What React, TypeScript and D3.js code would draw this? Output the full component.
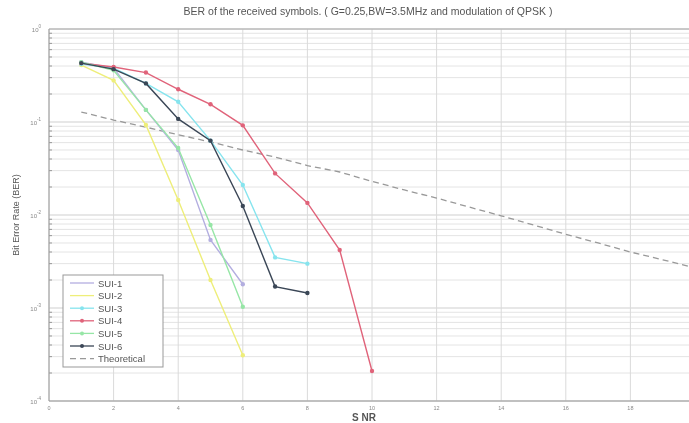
import React from "react";
import * as d3 from "d3";

// SNR points (dB) for each SUI channel model
const snrShort = [1, 2, 3, 4, 5, 6];
const snrMid = [1, 2, 3, 4, 5, 6, 7, 8];
const snrLong = [1, 2, 3, 4, 5, 6, 7, 8, 9, 10];
const snrTheory = [1, 2, 3, 4, 5, 6, 7, 8, 9, 10, 11, 12, 13, 14, 15, 16, 17, 18, 19, 20];

const sui1 = [0.44, 0.38, 0.135, 0.05, 0.0054, 0.0018];
const sui2 = [0.41, 0.28, 0.093, 0.0145, 0.002, 0.00031];
const sui3 = [0.42, 0.38, 0.26, 0.165, 0.063, 0.021, 0.0035, 0.003];
const sui4 = [0.43, 0.39, 0.34, 0.225, 0.155, 0.092, 0.028, 0.0135, 0.0042, 0.00021];
const sui5 = [0.44, 0.36, 0.135, 0.0525, 0.0078, 0.00103];
const sui6 = [0.43, 0.37, 0.26, 0.108, 0.063, 0.0125, 0.0017, 0.00145];
const theory = [0.128, 0.105, 0.088, 0.073, 0.061, 0.05, 0.042, 0.034, 0.029, 0.023,
  0.0186, 0.0152, 0.0122, 0.0098, 0.0078, 0.0062, 0.005, 0.004, 0.0033, 0.0027];

const xTicks = [0, 2, 4, 6, 8, 10, 12, 14, 16, 18];
const yTicks = [1, 0.1, 0.01, 0.001, 0.0001];
const yTickExp = ["0", "-1", "-2", "-3", "-4"];

const series = [
  { name: "SUI-1", x: snrShort, y: sui1, color: "#b3aee0", dash: "" },
  { name: "SUI-2", x: snrShort, y: sui2, color: "#eeee7a", dash: "" },
  { name: "SUI-3", x: snrMid, y: sui3, color: "#86e4ee", dash: "" },
  { name: "SUI-4", x: snrLong, y: sui4, color: "#e0637a", dash: "" },
  { name: "SUI-5", x: snrShort, y: sui5, color: "#96e6a6", dash: "" },
  { name: "SUI-6", x: snrMid, y: sui6, color: "#3a4656", dash: "" },
];

const W = 689;
const H = 423;
const left = 49;
const top = 29;
const bottom = 401;

export default function App() {
  const x = d3.scaleLinear().domain([0, 20]).range([left, left + 20 * 32.3]);
  const y = d3.scaleLog().domain([1e-4, 1]).range([bottom, top]);
  const line = d3
    .line<[number, number]>()
    .x((d) => x(d[0]))
    .y((d) => y(d[1]));

  // minor log grid values
  const minor: number[] = [];
  for (let e = -4; e < 0; e++) {
    for (let m = 2; m <= 9; m++) minor.push(m * Math.pow(10, e));
  }

  const font = "Liberation Sans, Arial, sans-serif";

  return (
    <svg width={W} height={H} style={{ position: "absolute", left: 0, top: 0, background: "#fff" }}>
      <defs>
        <filter id="soft">
          <feGaussianBlur stdDeviation="0.45" />
        </filter>
      </defs>
      <rect width={W} height={H} fill="#fff" />
      <g filter="url(#soft)">
        {/* grid */}
        {minor.map((v, i) => (
          <line key={"m" + i} x1={left} x2={W} y1={y(v)} y2={y(v)} stroke="#e4e4e4" strokeWidth={1} />
        ))}
        {yTicks.map((v, i) => (
          <line key={"M" + i} x1={left} x2={W} y1={y(v)} y2={y(v)} stroke="#cfcfcf" strokeWidth={1} />
        ))}
        {xTicks.map((v) => (
          <line key={"x" + v} x1={x(v)} x2={x(v)} y1={top} y2={bottom} stroke="#dadada" strokeWidth={1} />
        ))}

        {/* axes */}
        <line x1={left} x2={left} y1={top} y2={bottom} stroke="#999" />
        <line x1={left} x2={W} y1={bottom} y2={bottom} stroke="#999" />
        <line x1={left} x2={W} y1={top} y2={top} stroke="#aaa" />
        {minor.map((v, i) => (
          <line key={"t" + i} x1={left} x2={left + 3} y1={y(v)} y2={y(v)} stroke="#999" />
        ))}
        {xTicks.map((v) => (
          <text key={"xl" + v} x={x(v)} y={bottom + 9} fontSize={5.5} fill="#888" textAnchor="middle" fontFamily={font}>
            {v}
          </text>
        ))}
        {yTicks.map((v, i) => (
          <text key={"yl" + i} x={left - 8} y={y(v) + 3} fontSize={6} fill="#888" textAnchor="end" fontFamily={font}>
            10
            <tspan dy={-4} fontSize={4.5}>
              {yTickExp[i]}
            </tspan>
          </text>
        ))}

        {/* theoretical curve */}
        <path
          d={line(snrTheory.map((s, i) => [s, theory[i]]) as [number, number][]) || ""}
          fill="none"
          stroke="#999"
          strokeWidth={1.3}
          strokeDasharray="6,4"
        />

        {/* simulated curves */}
        {series.map((s) => {
          const pts = s.x.map((v, i) => [v, s.y[i]] as [number, number]);
          return (
            <g key={s.name}>
              <path d={line(pts) || ""} fill="none" stroke={s.color} strokeWidth={1.4} />
              {pts.map((p, i) => (
                <circle key={i} cx={x(p[0])} cy={y(p[1])} r={2.2} fill={s.color} />
              ))}
            </g>
          );
        })}

        {/* legend */}
        <rect x={63} y={275} width={100} height={92} fill="#fff" stroke="#999" strokeWidth={1} />
        {[...series, { name: "Theoretical", color: "#999", dash: "6,4" }].map((s, i) => {
          const ly = 283 + i * 12.6;
          return (
            <g key={"lg" + s.name}>
              <line x1={70} x2={94} y1={ly} y2={ly} stroke={s.color} strokeWidth={1.3} strokeDasharray={s.dash} />
              {s.name !== "Theoretical" && s.name !== "SUI-1" && s.name !== "SUI-2" && (
                <circle cx={82} cy={ly} r={2} fill={s.color} />
              )}
              <text x={98} y={ly + 3.5} fontSize={9.5} fill="#555" fontFamily={font}>
                {s.name}
              </text>
            </g>
          );
        })}

        {/* titles */}
        <text x={368} y={15} fontSize={10.5} fill="#555" textAnchor="middle" fontFamily={font}>
          BER of the received symbols. ( G=0.25,BW=3.5MHz and modulation of QPSK )
        </text>
        <text x={352} y={421} fontSize={10} fill="#555" fontWeight="bold" fontFamily={font}>
          S NR
        </text>
        <text
          transform={`translate(19,${(top + bottom) / 2}) rotate(-90)`}
          fontSize={9}
          fill="#555"
          textAnchor="middle"
          fontFamily={font}
        >
          Bit Error Rate (BER)
        </text>
      </g>
    </svg>
  );
}
